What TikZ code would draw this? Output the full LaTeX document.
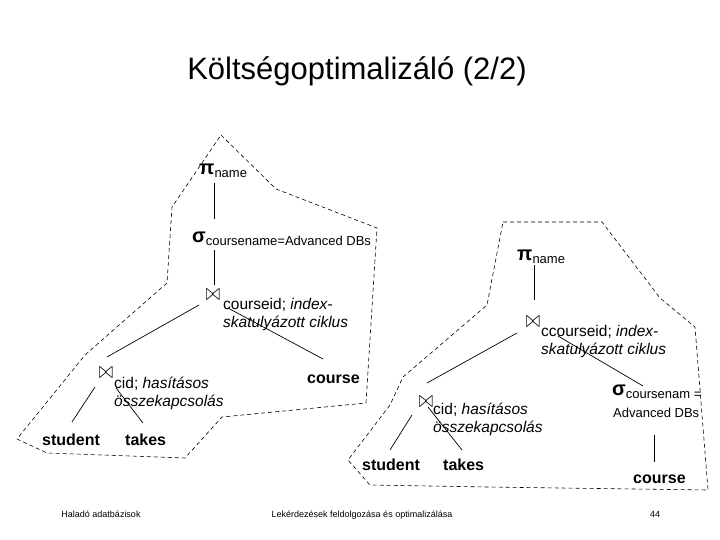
\documentclass[tikz,border=0pt]{standalone}
\usepackage{fontspec}
\setmainfont{Liberation Sans}
\usetikzlibrary{calc}
\newcommand{\relop}[2]{{\fontsize{20}{20}\selectfont\bfseries #1}\raisebox{-3pt}{\fontsize{13}{13}\selectfont #2}}
\newcommand{\joinmark}{\scalebox{1}[1.4]{$\bowtie$}}
\begin{document}
\begin{tikzpicture}[x=1pt,y=-1pt,
  leaf/.style={font=\fontsize{16}{16}\selectfont\bfseries,inner sep=0pt,anchor=base west},
  opnode/.style={inner sep=0pt,anchor=base west},
  joinsym/.style={font=\fontsize{16}{16}\selectfont,inner sep=0pt},
  joinlbl/.style={font=\fontsize{15.5}{18}\selectfont,align=left,inner sep=0pt,anchor=base west},
  region/.style={dash pattern=on 4pt off 3pt,line width=0.6pt},
  edge/.style={line width=0.7pt},
  foot/.style={font=\fontsize{9}{9}\selectfont,anchor=base}]
  \useasboundingbox[fill=white] (0,0) rectangle (720,540);
  \node[font=\fontsize{31}{31}\selectfont,anchor=base] (title) at (357,80) {Költségoptimalizáló (2/2)};
  % first plan
  \node[opnode] (p1) at (199,175) {\relop{π}{name}};
  \node[opnode] (s1) at (192,242) {\relop{σ}{coursename=Advanced DBs}};
  \node[joinsym] (j1) at (213,295) {\joinmark};
  \node[joinlbl] (j1l) at (223,327) {courseid; \textit{index-}\\\textit{skatulyázott ciklus}};
  \node[joinsym] (j2) at (106,373) {\joinmark};
  \node[joinlbl] (j2l) at (114,406) {cid; \textit{hasításos}\\\textit{összekapcsolás}};
  \node[leaf] (student1) at (42,445) {student};
  \node[leaf] (takes1) at (125,445) {takes};
  \node[leaf] (course1) at (307,383) {course};
  \draw[edge] ($(p1.base west)+(15,8)$) -- ($(s1.base west)+(22,-23)$);
  \draw[edge] ($(s1.base west)+(22,8)$) -- ($(j1)+(1,-10)$);
  \draw[edge] ($(j1)+(-14,10)$) -- ($(j2)+(1,-16)$);
  \draw[edge] ($(j1)+(15,13)$) -- ($(course1.base west)+(16,-24)$);
  \draw[edge] ($(j2)+(-11,14)$) -- ($(student1.base west)+(30,-23)$);
  \draw[edge] ($(j2)+(10,15)$) -- ($(takes1.base west)+(18,-22)$);
  \draw[region] (221,135) -- (276,189) -- (377,228) -- (366,403) -- (222,417) -- (185,458)
    -- (47,453) -- (17,439) -- (85,355) -- (167,283) -- (172,207) -- cycle;
  % second plan
  \node[opnode] (p2) at (517,260) {\relop{π}{name}};
  \node[joinsym] (j3) at (533,322) {\joinmark};
  \node[joinlbl] (j3l) at (541,354) {ccourseid; \textit{index-}\\\textit{skatulyázott ciklus}};
  \node[joinsym] (j4) at (426,402) {\joinmark};
  \node[joinlbl] (j4l) at (433,432) {cid; \textit{hasításos}\\\textit{összekapcsolás}};
  \node[opnode] (s2) at (612,395) {\relop{σ}{coursenam =}};
  \node[opnode,font=\fontsize{13}{13}\selectfont] (s2n) at (613,417) {Advanced DBs};
  \node[leaf] (student2) at (362,470) {student};
  \node[leaf] (takes2) at (443,470) {takes};
  \node[leaf] (course2) at (633,483) {course};
  \draw[edge] ($(p2.base west)+(17,5)$) -- ($(j3)+(1,-22)$);
  \draw[edge] ($(j3)+(-16,11)$) -- ($(j4)+(1,-19)$);
  \draw[edge] ($(j3)+(25,14)$) -- ($(s2.base west)+(31,-9)$);
  \draw[edge] ($(j4)+(-14,13)$) -- ($(student2.base west)+(28,-20)$);
  \draw[edge] ($(j4)+(2,5)$) -- ($(takes2.base west)+(19,-20)$);
  \draw[edge] ($(s2n.base west)+(41,18)$) -- ($(course2.base west)+(21,-21)$);
  \draw[region] (503,222) -- (602,222) -- (660,298) -- (695,327) -- (708,490) -- (487,487)
    -- (370,485) -- (348,460) -- (390,405) -- (403,377) -- (487,305) -- cycle;
  % footer
  \node[foot] (f1) at (101,517) {Haladó adatbázisok};
  \node[foot] (f2) at (362,517) {Lekérdezések feldolgozása és optimalizálása};
  \node[foot] (f3) at (655,517) {44};
\end{tikzpicture}
\end{document}
